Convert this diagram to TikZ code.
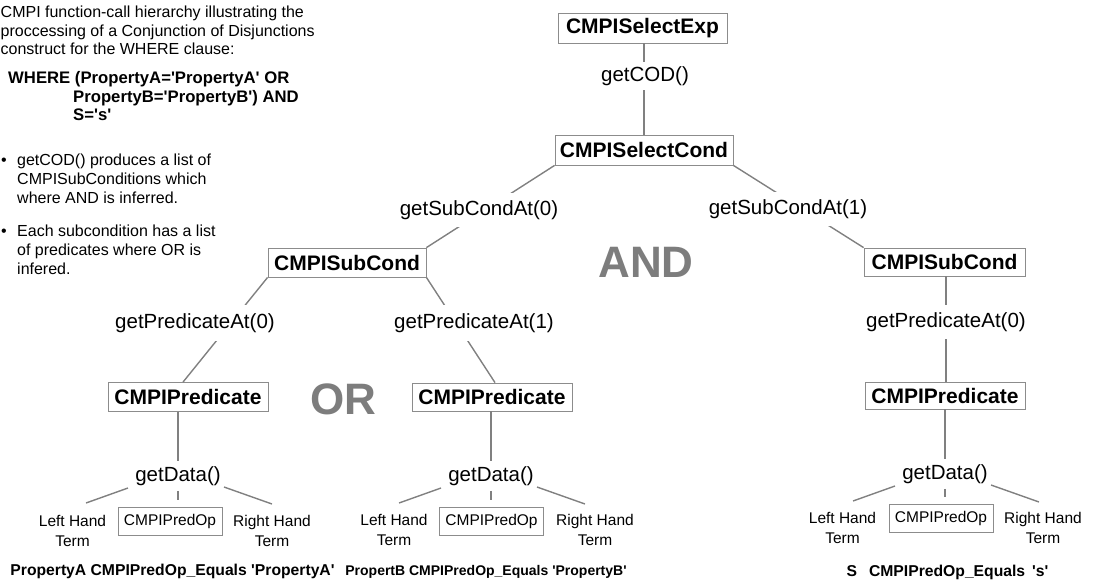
\documentclass[tikz,border=0pt]{standalone}
\usepackage{fontspec}
\newfontfamily\arial{Liberation Sans}
\definecolor{lc}{RGB}{128,128,128}
\definecolor{bc}{RGB}{140,140,140}
\definecolor{bigc}{RGB}{125,125,125}
\begin{document}
\arial
\begin{tikzpicture}[x=1pt,y=-1pt,
  box/.style={draw=bc, line width=0.8pt, fill=white, inner sep=0pt, font=\bfseries\fontsize{21}{24}\selectfont},
  opbox/.style={draw=bc, line width=0.8pt, inner sep=0pt, minimum width=104pt, minimum height=28pt, font=\fontsize{15.5}{19}\selectfont},
  call/.style={fill=white, inner xsep=2pt, inner ysep=7pt, font=\fontsize{20.5}{24}\selectfont},
  gdcall/.style={inner xsep=2pt, inner ysep=5pt, font=\fontsize{20.5}{24}\selectfont},
  term/.style={align=center, inner sep=0pt, font=\fontsize{15.5}{20}\selectfont},
  link/.style={draw=lc, line width=1.4pt},
  big/.style={text=bigc, inner sep=0pt, font=\bfseries\fontsize{44}{50}\selectfont},
  bottom/.style={anchor=base, inner sep=0pt, font=\bfseries\fontsize{15.7}{18}\selectfont},
  plain/.style={anchor=base west, inner sep=0pt, font=\fontsize{16}{19}\selectfont},
  where/.style={anchor=base west, inner sep=0pt, font=\bfseries\fontsize{16.7}{19}\selectfont}
]
\useasboundingbox (0,0) rectangle (1095,582);

% description text
\node[plain] (t1) at (0.5,17) {CMPI function-call hierarchy illustrating the};
\node[plain] (t2) at (0.5,36) {proccessing of a Conjunction of Disjunctions};
\node[plain] (t3) at (0.5,54) {construct for the WHERE clause:};
\node[where] (w1) at (8,83) {WHERE (PropertyA='PropertyA' OR};
\node[where] (w2) at (73,102) {PropertyB='PropertyB') AND};
\node[where] (w3) at (73,120) {S='s'};
\node[plain] (b1d) at (1,165) {•};
\node[plain] (b1a) at (17,165) {getCOD() produces a list of};
\node[plain] (b1b) at (17,184) {CMPISubConditions which};
\node[plain] (b1c) at (17,203) {where AND is inferred.};
\node[plain] (b2d) at (1,236) {•};
\node[plain] (b2a) at (17,236) {Each subcondition has a list};
\node[plain] (b2b) at (17,255) {of predicates where OR is};
\node[plain] (b2c) at (17,274) {infered.};

% boxes
\node[box, minimum width=169pt, minimum height=30pt] (selexp) at (642.5,28) {CMPISelectExp};
\node[box, minimum width=178pt, minimum height=30pt] (selcond) at (644,150) {CMPISelectCond};
\node[box, minimum width=158pt, minimum height=29pt] (sub1) at (347,262.5) {CMPISubCond};
\node[box, minimum width=161pt, minimum height=28pt] (sub2) at (944.5,262) {CMPISubCond};
\node[box, minimum width=160pt, minimum height=29pt] (pred1) at (188,397) {CMPIPredicate};
\node[box, minimum width=160pt, minimum height=28pt] (pred2) at (492,397) {CMPIPredicate};
\node[box, minimum width=160pt, minimum height=27pt] (pred3) at (945,395.5) {CMPIPredicate};

\node[opbox] (op1) at (170,521.5) {CMPIPredOp};
\node[opbox] (op2) at (491.5,521) {CMPIPredOp};
\node[opbox] (op3) at (941,518.5) {CMPIPredOp};

\node[gdcall] (gd1) at (178,476) {getData()};
\node[gdcall] (gd2) at (491,476) {getData()};
\node[gdcall] (gd3) at (945,474) {getData()};

% connectors
\draw[link] (selexp.south -| selcond.north) -- (selcond.north);
\draw[link] (selcond.south west) -- (sub1.north east);
\draw[link] (selcond.south east) -- (sub2.north west);
\draw[link] (sub1.south west) -- ([xshift=-5pt]pred1.north);
\draw[link] (sub1.south east) -- ([xshift=3pt]pred2.north);
\draw[link] (sub2.south -| 946,0) -- (pred3.north -| 946,0);
\draw[link] (gd1 |- pred1.south) -- (gd1);
\draw[link] (gd2 |- pred2.south) -- (gd2);
\draw[link] (gd3 |- pred3.south) -- (gd3);
\draw[link, shorten >=7pt] (gd1) -- (gd1 |- op1.north);
\draw[link, shorten >=7pt] (gd2) -- (gd2 |- op2.north);
\draw[link, shorten >=7pt] (gd3) -- (gd3 |- op3.north);
\foreach \g in {gd1,gd2,gd3}{
  \draw[link] ([shift={(-50,12)}]\g.center) -- ([shift={(-92,27)}]\g.center);
  \draw[link] ([shift={(46,11)}]\g.center) -- ([shift={(94,28)}]\g.center);
}

% call labels
\node[call, inner ysep=4pt] (gcod) at (645,76) {getCOD()};
\node[call] (gsc0) at (479,210) {getSubCondAt(0)};
\node[call] (gsc1) at (788,209) {getSubCondAt(1)};
\node[call, inner ysep=8pt] (gpa0) at (195,323) {getPredicateAt(0)};
\node[call, inner ysep=8pt] (gpa1) at (474,323) {getPredicateAt(1)};
\node[call] (gpa2) at (946,322) {getPredicateAt(0)};

% big operators
\node[big] (and) at (646,262) {AND};
\node[big] (or) at (343.5,399) {OR};

% terms
\node[term] (lht1) at (72.5,531) {Left Hand\\Term};
\node[term] (rht1) at (272,531) {Right Hand\\Term};
\node[term] (lht2) at (394,530) {Left Hand\\Term};
\node[term] (rht2) at (595,530) {Right Hand\\Term};
\node[term] (lht3) at (842.5,528) {Left Hand\\Term};
\node[term] (rht3) at (1043,528) {Right Hand\\Term};

% bottom
\node[bottom] (bt1) at (172.5,575) {PropertyA CMPIPredOp\_Equals 'PropertyA'};
\node[bottom, font=\bfseries\fontsize{14}{17}\selectfont] (bt2) at (486,575) {PropertB CMPIPredOp\_Equals 'PropertyB'};
\node[bottom] (bt3) at (947.5,576) {S\hspace{12pt}CMPIPredOp\_Equals\hspace{7pt}'s'};
\end{tikzpicture}
\end{document}
